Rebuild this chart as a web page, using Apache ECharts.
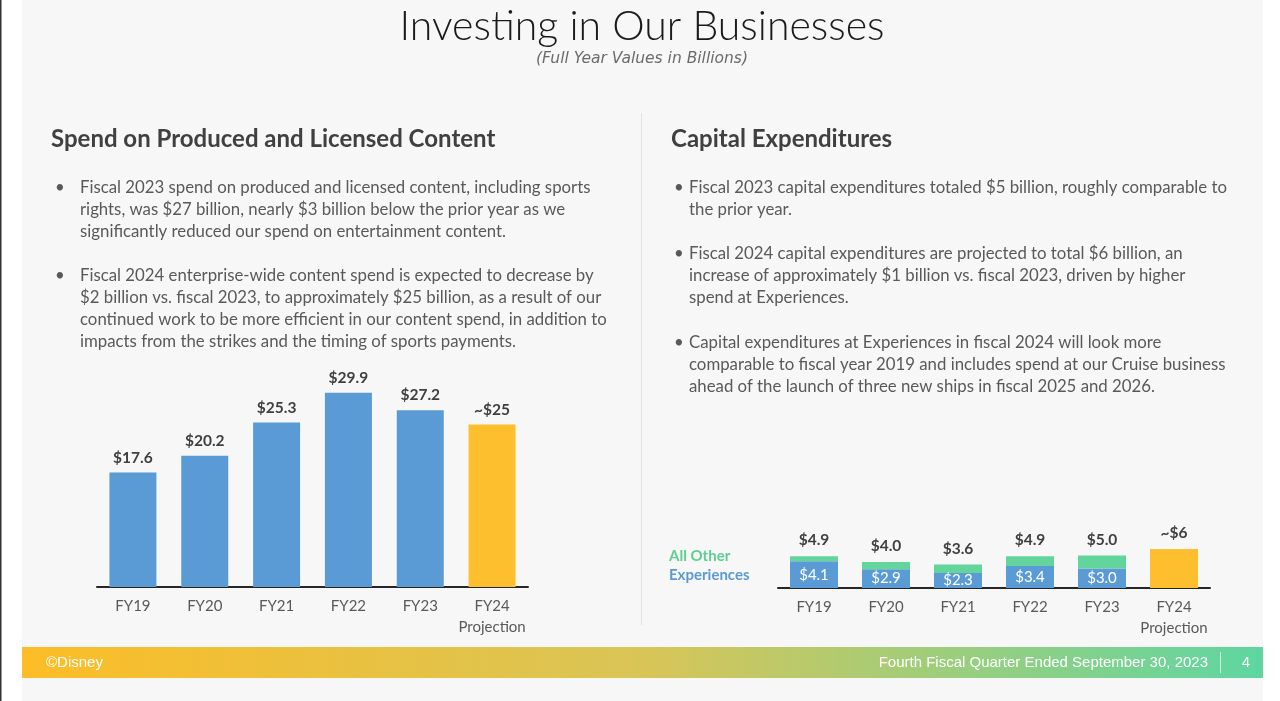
<!DOCTYPE html>
<html>
<head>
<meta charset="utf-8">
<script src="https://cdn.jsdelivr.net/npm/echarts@6/dist/echarts.min.js"></script>
<style>
  html, body { margin: 0; padding: 0; background: #fff; }
  #main { width: 1280px; height: 701px; }
</style>
</head>
<body>
<div id="main"></div>
<script>
// content spend (left chart)
const years = ['FY19', 'FY20', 'FY21', 'FY22', 'FY23', 'FY24\nProjection']
const contentSpend = [17.6, 20.2, 25.3, 29.9, 27.2, 25]
const contentLabels = ['$17.6', '$20.2', '$25.3', '$29.9', '$27.2', '~$25']

// capital expenditures (right chart)
const capexExperiences = [4.1, 2.9, 2.3, 3.4, 3.0, null]
const capexOther = [0.8, 1.1, 1.3, 1.5, 2.0, null]
const capexProjection = [null, null, null, null, null, 6]
const capexTotalLabels = ['$4.9', '$4.0', '$3.6', '$4.9', '$5.0']
const capexExpLabels = ['$4.1', '$2.9', '$2.3', '$3.4', '$3.0']

const BLUE = '#5b9bd5'
const YELLOW = '#fdbf2d'
const GREEN = '#62d49c'
const TEXT = '#595959'
const HEAD = '#404040'
const bodyFont = '16.8px Lato, "Liberation Sans", sans-serif'

const leftBullets = [
  'Fiscal 2023 spend on produced and licensed content, including sports\nrights, was $27 billion, nearly $3 billion below the prior year as we\nsignificantly reduced our spend on entertainment content.',
  'Fiscal 2024 enterprise-wide content spend is expected to decrease by\n$2 billion vs. fiscal 2023, to approximately $25 billion, as a result of our\ncontinued work to be more efficient in our content spend, in addition to\nimpacts from the strikes and the timing of sports payments.'
]
const rightBullets = [
  'Fiscal 2023 capital expenditures totaled $5 billion, roughly comparable to\nthe prior year.',
  'Fiscal 2024 capital expenditures are projected to total $6 billion, an\nincrease of approximately $1 billion vs. fiscal 2023, driven by higher\nspend at Experiences.',
  'Capital expenditures at Experiences in fiscal 2024 will look more\ncomparable to fiscal year 2019 and includes spend at our Cruise business\nahead of the launch of three new ships in fiscal 2025 and 2026.'
]

const chart = echarts.init(document.getElementById('main'))

const bulletBlock = (list, tops, bx, tx) => {
  const out = []
  list.forEach((t, i) => {
    out.push({ type: 'text', z: 10, style: { text: '•', x: bx, y: tops[i], font: bodyFont, fill: TEXT, lineHeight: 22 } })
    out.push({ type: 'text', z: 10, style: { text: t, x: tx, y: tops[i], font: bodyFont, fill: TEXT, lineHeight: 22 } })
  })
  return out
}

const xAxisCommon = {
  type: 'category',
  data: years,
  axisTick: { show: false },
  axisLine: { lineStyle: { color: '#262626', width: 2 } },
  axisLabel: { interval: 0, color: TEXT, fontSize: 15, fontFamily: 'Lato, sans-serif', margin: 9, lineHeight: 21 }
}
const yAxisCommon = { type: 'value', min: 0, max: 30, show: false, splitLine: { show: false } }

const option = {
  animation: false,
  graphic: [
    { type: 'rect', z: -10, silent: true, shape: { x: 22, y: 0, width: 1241, height: 701 }, style: { fill: '#f7f7f7' } },
    { type: 'rect', z: -10, silent: true, shape: { x: 0, y: 0, width: 1.5, height: 701 }, style: { fill: '#333' } },
    { type: 'rect', z: -5, silent: true, shape: { x: 641, y: 113, width: 1, height: 512 }, style: { fill: '#e2e2e2' } },
    {
      type: 'rect', z: -5, silent: true, shape: { x: 22, y: 647, width: 1241, height: 31 },
      style: {
        fill: new echarts.graphic.LinearGradient(0, 0, 1, 0, [
          { offset: 0, color: '#fcbd27' },
          { offset: 0.5, color: '#d9c557' },
          { offset: 1, color: '#5ed6a2' }
        ])
      }
    },
    { type: 'text', z: 10, style: { text: 'Investing in Our Businesses', x: 642, y: 27, textAlign: 'center', textVerticalAlign: 'middle', font: '300 41px Lato, "DejaVu Sans", sans-serif', fill: '#1a1a1a' } },
    { type: 'text', z: 10, style: { text: '(Full Year Values in Billions)', x: 642, y: 59, textAlign: 'center', textVerticalAlign: 'middle', font: 'italic 15.5px "DejaVu Sans", sans-serif', fill: '#6b6b6b' } },
    { type: 'text', z: 10, style: { text: 'Spend on Produced and Licensed Content', x: 51, y: 139, textVerticalAlign: 'middle', font: 'bold 24px Lato, sans-serif', fill: HEAD } },
    { type: 'text', z: 10, style: { text: 'Capital Expenditures', x: 671, y: 139, textVerticalAlign: 'middle', font: 'bold 24px Lato, sans-serif', fill: HEAD } },
    ...bulletBlock(leftBullets, [177, 265], 55, 80),
    ...bulletBlock(rightBullets, [177, 243, 332], 674, 689),
    { type: 'text', z: 10, style: { text: 'All Other', x: 669, y: 556, textVerticalAlign: 'middle', font: 'bold 15px Lato, sans-serif', fill: '#5ccf92' } },
    { type: 'text', z: 10, style: { text: 'Experiences', x: 669, y: 575, textVerticalAlign: 'middle', font: 'bold 15px Lato, sans-serif', fill: BLUE } },
    { type: 'text', z: 10, style: { text: '©Disney', x: 46, y: 663, textVerticalAlign: 'middle', font: '15px "Liberation Sans Narrow", "Liberation Sans", sans-serif', fill: '#fff' } },
    { type: 'text', z: 10, style: { text: 'Fourth Fiscal Quarter Ended September 30, 2023', x: 1208, y: 663, textAlign: 'right', textVerticalAlign: 'middle', font: '15px "Liberation Sans Narrow", "Liberation Sans", sans-serif', fill: '#fff' } },
    { type: 'rect', z: 10, silent: true, shape: { x: 1220, y: 652, width: 1, height: 21 }, style: { fill: 'rgba(255,255,255,0.7)' } },
    { type: 'text', z: 10, style: { text: '4', x: 1246, y: 663, textAlign: 'center', textVerticalAlign: 'middle', font: '15px "Liberation Sans Narrow", "Liberation Sans", sans-serif', fill: '#fff' } }
  ],
  grid: [
    { left: 97, right: 1280 - 528, top: 392, bottom: 701 - 587 },
    { left: 778, right: 1280 - 1210, top: 393, bottom: 701 - 588 }
  ],
  xAxis: [
    { ...xAxisCommon, gridIndex: 0 },
    { ...xAxisCommon, gridIndex: 1 }
  ],
  yAxis: [
    { ...yAxisCommon, gridIndex: 0 },
    { ...yAxisCommon, gridIndex: 1 }
  ],
  series: [
    {
      name: 'Content',
      type: 'bar',
      xAxisIndex: 0,
      yAxisIndex: 0,
      barWidth: 47,
      data: contentSpend.map((v, i) => ({ value: v, itemStyle: { color: i === 5 ? YELLOW : BLUE } })),
      label: {
        show: true,
        position: 'top',
        distance: 7,
        color: HEAD,
        fontWeight: 'bold',
        fontSize: 15.5,
        fontFamily: 'Lato, sans-serif',
        formatter: (p) => contentLabels[p.dataIndex]
      }
    },
    {
      name: 'Experiences',
      type: 'bar',
      stack: 'capex',
      xAxisIndex: 1,
      yAxisIndex: 1,
      barWidth: 48,
      itemStyle: { color: BLUE },
      data: capexExperiences,
      label: {
        show: true,
        position: 'inside',
        color: '#fff',
        fontSize: 15,
        fontFamily: 'Lato, sans-serif',
        formatter: (p) => capexExpLabels[p.dataIndex]
      }
    },
    {
      name: 'All Other',
      type: 'bar',
      stack: 'capex',
      xAxisIndex: 1,
      yAxisIndex: 1,
      barWidth: 48,
      itemStyle: { color: GREEN },
      data: capexOther,
      label: {
        show: true,
        position: 'top',
        distance: 8,
        color: HEAD,
        fontWeight: 'bold',
        fontSize: 15.5,
        fontFamily: 'Lato, sans-serif',
        formatter: (p) => capexTotalLabels[p.dataIndex]
      }
    },
    {
      name: 'Projection',
      type: 'bar',
      stack: 'capex',
      xAxisIndex: 1,
      yAxisIndex: 1,
      barWidth: 48,
      itemStyle: { color: YELLOW },
      data: capexProjection,
      label: {
        show: true,
        position: 'top',
        distance: 8,
        color: HEAD,
        fontWeight: 'bold',
        fontSize: 15.5,
        fontFamily: 'Lato, sans-serif',
        formatter: '~$6'
      }
    }
  ]
}
chart.setOption(option)
</script>
</body>
</html>
